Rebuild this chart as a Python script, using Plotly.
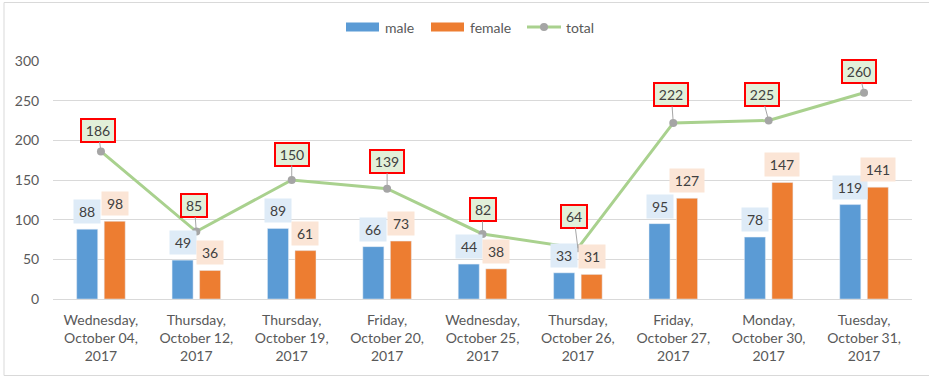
import plotly.graph_objects as go

categories = [
    "Wednesday,<br>October 04,<br>2017",
    "Thursday,<br>October 12,<br>2017",
    "Thursday,<br>October 19,<br>2017",
    "Friday,<br>October 20,<br>2017",
    "Wednesday,<br>October 25,<br>2017",
    "Thursday,<br>October 26,<br>2017",
    "Friday,<br>October 27,<br>2017",
    "Monday,<br>October 30,<br>2017",
    "Tuesday,<br>October 31,<br>2017",
]
male = [88, 49, 89, 66, 44, 33, 95, 78, 119]
female = [98, 36, 61, 73, 38, 31, 127, 147, 141]
total = [186, 85, 150, 139, 82, 64, 222, 225, 260]

# label offsets (pixels) for the total labels, box centre relative to point
total_label_dx = [-3, -2, 0, 0, 0, -4, -2, -7, -5]
total_label_dy = [-21, -26, -26, -27, -24, -32, -28, -26, -21]

FIG_W, FIG_H = 929, 377
L, R, T, B = 53, 17, 61, 78
PW, PH = FIG_W - L - R, FIG_H - T - B

FONT = "Lato"
TXT = "#595959"
LBL = "#404040"
BLUE = "#5B9BD5"
ORANGE = "#ED7D31"
GREEN = "#A9D18E"
GRAY = "#A5A5A5"

bargap = 0.423
bargroupgap = 0.236
slot_px = (1 - bargap) / 2 * PW / len(categories)


def px_x(px):
    return (px - L) / PW


def px_y(py):
    return (FIG_H - B - py) / PH


fig = go.Figure()
fig.add_trace(go.Bar(x=categories, y=male, name="male", marker_color=BLUE, showlegend=False))
fig.add_trace(go.Bar(x=categories, y=female, name="female", marker_color=ORANGE, showlegend=False))
fig.add_trace(go.Scatter(
    x=categories, y=total, name="total", mode="lines+markers",
    line=dict(color=GREEN, width=3),
    marker=dict(color=GRAY, size=8, line=dict(color=GRAY, width=0)),
    showlegend=False,
))

annotations = []
for series, bg, sign in ((male, "#DEEBF7", -1), (female, "#FBE5D6", 1)):
    for c, v in zip(categories, series):
        s = str(v)
        annotations.append(dict(
            x=c, y=v, xref="x", yref="y", text=s, showarrow=False,
            xshift=sign * slot_px / 2, yshift=5, yanchor="bottom",
            bgcolor=bg, borderpad=3, width=8 * len(s) + 4,
            font=dict(family=FONT, size=14, color=LBL),
        ))

for c, v, dx, dy in zip(categories, total, total_label_dx, total_label_dy):
    s = str(v)
    annotations.append(dict(
        x=c, y=v, xref="x", yref="y", text=s, showarrow=True,
        ax=dx, ay=dy, arrowhead=0, arrowwidth=1, arrowcolor="#A6A6A6", standoff=0,
        bgcolor="#E2F0D9", bordercolor="#FF0000", borderwidth=2, borderpad=2,
        width=8 * len(s) + 4,
        font=dict(family=FONT, size=14, color=LBL),
    ))

# legend (drawn manually to mimic the wide swatches)
shapes = []
leg_y = 27
for x0, x1, col in ((346, 379, BLUE), (431, 464, ORANGE)):
    shapes.append(dict(type="rect", xref="paper", yref="paper",
                       x0=px_x(x0), x1=px_x(x1), y0=px_y(leg_y + 4.5), y1=px_y(leg_y - 4.5),
                       fillcolor=col, line=dict(width=0)))
shapes.append(dict(type="line", xref="paper", yref="paper",
                   x0=px_x(527), x1=px_x(561), y0=px_y(leg_y), y1=px_y(leg_y),
                   line=dict(color=GREEN, width=3)))
shapes.append(dict(type="circle", xref="paper", yref="paper",
                   x0=px_x(540), x1=px_x(548), y0=px_y(leg_y + 4), y1=px_y(leg_y - 4),
                   fillcolor=GRAY, line=dict(width=0)))
for xp, t in ((383, "male"), (468, "female"), (564, "total")):
    annotations.append(dict(x=px_x(xp), y=px_y(leg_y), xref="paper", yref="paper",
                            text=t, showarrow=False, xanchor="left", yanchor="middle",
                            font=dict(family=FONT, size=14, color=TXT)))
# chart border
shapes.append(dict(type="rect", xref="paper", yref="paper",
                   x0=px_x(4), x1=px_x(945), y0=px_y(375.5), y1=px_y(2.5),
                   line=dict(color="#D9D9D9", width=1), fillcolor="rgba(0,0,0,0)", layer="below"))

fig.update_layout(
    width=FIG_W, height=FIG_H,
    margin=dict(l=L, r=R, t=T, b=B, pad=0),
    paper_bgcolor="white", plot_bgcolor="white",
    barmode="group", bargap=bargap, bargroupgap=bargroupgap,
    font=dict(family=FONT, size=14, color=TXT),
    annotations=annotations, shapes=shapes,
    showlegend=False,
)
fig.update_yaxes(range=[0, 300], dtick=50, showgrid=True, gridcolor="#D9D9D9", gridwidth=1,
                 zeroline=False, showline=False, ticks="outside", ticklen=0,
                 ticklabelstandoff=10, tickfont=dict(family=FONT, size=14, color=TXT))
fig.update_xaxes(showline=True, linecolor="#D9D9D9", linewidth=1, ticks="", showgrid=False,
                 tickangle=0, tickfont=dict(family=FONT, size=14, color=TXT),
                 ticklabelstandoff=8)

fig.write_html("out.html", config={"displayModeBar": False},
               post_script="document.body.style.margin='0';")
